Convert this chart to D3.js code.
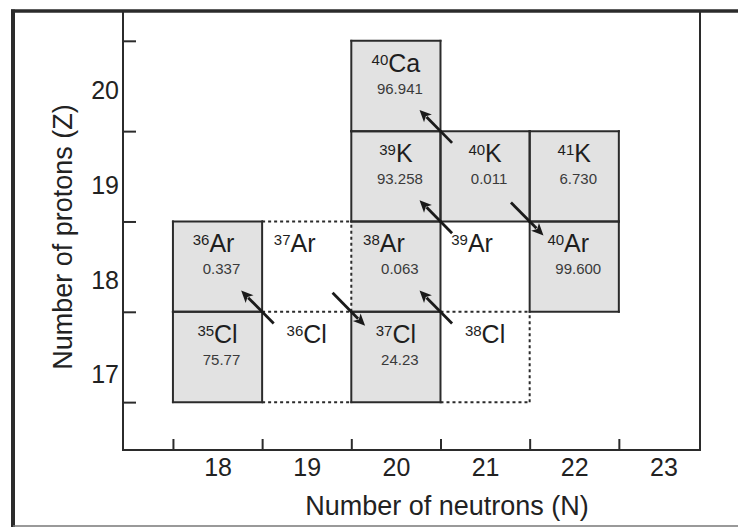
<!DOCTYPE html>
<html>
<head>
<meta charset="utf-8">
<script src="https://cdn.jsdelivr.net/npm/d3@7/dist/d3.min.js"></script>
<style>
  html, body { margin: 0; padding: 0; background: #fff; }
  svg { display: block; font-family: "Liberation Sans", Arial, Helvetica, sans-serif; }
</style>
</head>
<body>
<svg id="chart" width="738" height="527"></svg>
<script>
// Nuclides of the Cl–Ar–K–Ca region (N = neutrons, Z = protons)
const elements     = ["Cl", "Cl", "Cl", "Cl", "Ar", "Ar", "Ar", "Ar", "Ar", "K", "K", "K", "Ca"];
const neutronCount = [18, 19, 20, 21, 18, 19, 20, 21, 22, 20, 21, 22, 20];
const protonCount  = [17, 17, 17, 17, 18, 18, 18, 18, 18, 19, 19, 19, 20];
// natural abundance in percent (null = not naturally occurring)
const abundances   = ["75.77", null, "24.23", null, "0.337", null, "0.063", null, "99.600",
                      "93.258", "0.011", "6.730", "96.941"];

// decay paths: parent -> daughter
const decayFrom = ["36Cl", "37Ar", "38Cl", "39Ar", "40K", "40K"];
const decayTo   = ["36Ar", "37Cl", "38Ar", "39K", "40Ca", "40Ar"];

// axis tick labels
const xTickLabels = [18, 19, 20, 21, 22, 23];
const yTickLabels = [17, 18, 19, 20];

const nuclides = elements.map((el, i) => ({
  el, N: neutronCount[i], Z: protonCount[i], A: neutronCount[i] + protonCount[i],
  abundance: abundances[i], key: (neutronCount[i] + protonCount[i]) + el
}));
const byKey = new Map(nuclides.map(d => [d.key, d]));

const svg = d3.select("#chart");
const ink = "#2b2b2b";

const x = d3.scaleLinear().domain([16.94, 23.41]).range([123, 700]);
const y = d3.scaleLinear().domain([15.97, 20.83]).range([450, 11]);
const [x0, x1] = x.range();
const [y0, y1] = y.range();

// outer frame
svg.append("line").attr("x1", 11).attr("x2", 738).attr("y1", y1).attr("y2", y1)
  .attr("stroke", ink).attr("stroke-width", 3.5);
svg.append("line").attr("x1", 13).attr("x2", 13).attr("y1", 9.5).attr("y2", 527)
  .attr("stroke", ink).attr("stroke-width", 4);
svg.append("line").attr("x1", 13).attr("x2", 738).attr("y1", 526).attr("y2", 526)
  .attr("stroke", "#777").attr("stroke-width", 1.5);

// plot frame
const frame = svg.append("g").attr("stroke", ink).attr("stroke-width", 2);
frame.append("line").attr("x1", x0).attr("x2", x0).attr("y1", y1).attr("y2", y0);
frame.append("line").attr("x1", x1).attr("x2", x1).attr("y1", y1).attr("y2", y0 + 1);
frame.append("line").attr("x1", x0 - 1).attr("x2", x1 + 1).attr("y1", y0).attr("y2", y0);

// cell boundaries as inward ticks
const xBounds = xTickLabels.map(v => v - 0.5);
const yBounds = yTickLabels.map(v => v - 0.5).concat(d3.max(yTickLabels) + 0.5);

const gxTicks = svg.append("g").attr("transform", `translate(0,${y0})`)
  .call(d3.axisBottom(x).tickValues(xBounds).tickSize(-11).tickFormat(""));
const gyTicks = svg.append("g").attr("transform", `translate(${x0},0)`)
  .call(d3.axisLeft(y).tickValues(yBounds).tickSize(-13).tickFormat(""));
[gxTicks, gyTicks].forEach(g => {
  g.select(".domain").remove();
  g.selectAll(".tick line").attr("stroke", ink).attr("stroke-width", 2);
});

// tick labels at cell centres
const intFmt = d3.format("d");
const gxLab = svg.append("g").attr("transform", `translate(0,${y0})`)
  .call(d3.axisBottom(x).tickValues(xTickLabels).tickSize(0).tickFormat(intFmt))
  .attr("font-family", null).attr("font-size", null);
gxLab.select(".domain").remove();
gxLab.selectAll("text").attr("y", 26).attr("dy", 0)
  .attr("font-size", 25).attr("fill", "#222");

const gyLab = svg.append("g").attr("transform", `translate(${x0},0)`)
  .call(d3.axisLeft(y).tickValues(yTickLabels).tickSize(0).tickFormat(intFmt))
  .attr("font-family", null).attr("font-size", null);
gyLab.select(".domain").remove();
gyLab.selectAll("text").attr("x", -4).attr("dy", "0.36em")
  .attr("y", d => 4 + (d3.max(yTickLabels) - d) * 4.3)
  .attr("font-size", 25).attr("fill", "#222");

// axis titles
svg.append("text").attr("x", 447).attr("y", 515)
  .attr("text-anchor", "middle").attr("font-size", 27).attr("fill", "#222")
  .text("Number of neutrons (N)");
svg.append("text").attr("transform", "translate(72,237) rotate(-90)")
  .attr("text-anchor", "middle").attr("font-size", 27).attr("fill", "#222")
  .text("Number of protons (Z)");

// cells
const cellLeft = d => x(d.N - 0.5), cellRight = d => x(d.N + 0.5);
const cellTop = d => y(d.Z + 0.5), cellBottom = d => y(d.Z - 0.5);
const stable = nuclides.filter(d => d.abundance !== null);

svg.append("g").selectAll("rect").data(stable).join("rect")
  .attr("x", cellLeft).attr("y", cellTop)
  .attr("width", d => cellRight(d) - cellLeft(d))
  .attr("height", d => cellBottom(d) - cellTop(d))
  .attr("fill", "#e2e2e2");

// dotted outlines of short-lived nuclides (edges not shared with a solid cell)
const dotted = [
  [[18.5, 18.5], [19.5, 18.5]], [[19.5, 17.5], [19.5, 18.5]],
  [[18.5, 17.5], [19.5, 17.5]], [[18.5, 16.5], [19.5, 16.5]],
  [[20.5, 17.5], [21.5, 17.5]], [[21.5, 16.5], [21.5, 17.5]],
  [[20.5, 16.5], [21.5, 16.5]]
];
svg.append("g").selectAll("line").data(dotted).join("line")
  .attr("x1", d => x(d[0][0])).attr("y1", d => y(d[0][1]))
  .attr("x2", d => x(d[1][0])).attr("y2", d => y(d[1][1]))
  .attr("stroke", ink).attr("stroke-width", 2).attr("stroke-dasharray", "3,3");

// solid outlines of naturally occurring nuclides; the 38Ar left side stays dotted
const solidEdges = [];
stable.forEach(d => {
  const l = d.N - 0.5, r = d.N + 0.5, t = d.Z + 0.5, b = d.Z - 0.5;
  solidEdges.push([[l, t], [r, t]], [[r, t], [r, b]], [[l, b], [r, b]]);
  if (d.key !== "38Ar") solidEdges.push([[l, t], [l, b]]);
});
svg.append("g").selectAll("line").data(solidEdges).join("line")
  .attr("x1", d => x(d[0][0])).attr("y1", d => y(d[0][1]))
  .attr("x2", d => x(d[1][0])).attr("y2", d => y(d[1][1]))
  .attr("stroke", ink).attr("stroke-width", 2).attr("stroke-linecap", "square");

// labels
const labelShift = { "37Ar": -12, "38Ar": -12, "39Ar": -13, "40Ar": -6, "36Ar": -4 };
const labels = svg.append("g").selectAll("g").data(nuclides).join("g");
const name = labels.append("text")
  .attr("x", d => (cellLeft(d) + cellRight(d)) / 2 + (labelShift[d.key] || 0))
  .attr("y", d => cellTop(d) + 31)
  .attr("text-anchor", "middle").attr("fill", "#1e1e1e");
name.append("tspan").attr("font-size", 15).attr("dy", -7).text(d => d.A);
name.append("tspan").attr("font-size", 25).attr("dy", 7).text(d => d.el);

labels.filter(d => d.abundance !== null).append("text")
  .attr("x", d => (cellLeft(d) + cellRight(d)) / 2 + 4)
  .attr("y", d => cellTop(d) + 53)
  .attr("text-anchor", "middle").attr("font-size", 15).attr("fill", "#3a3a3a")
  .text(d => d.abundance);

// decay arrows crossing the shared cell corner
const arrows = decayFrom.map((f, i) => {
  const s = byKey.get(f), t = byKey.get(decayTo[i]);
  const mN = (s.N + t.N) / 2, mZ = (s.Z + t.Z) / 2;
  const up = t.Z > s.Z;
  const tt = up ? 0.26 : 0.42, th = up ? 0.47 : 0.31;
  return {
    x1: x(mN + (s.N - mN) * tt), y1: y(mZ + (s.Z - mZ) * tt),
    x2: x(mN + (t.N - mN) * th), y2: y(mZ + (t.Z - mZ) * th)
  };
});
const ag = svg.append("g");
arrows.forEach(a => {
  const dx = a.x2 - a.x1, dy = a.y2 - a.y1, len = Math.hypot(dx, dy);
  const ux = dx / len, uy = dy / len, px = -uy, py = ux;
  const headL = 12, headW = 5.5, notch = 3;
  ag.append("line")
    .attr("x1", a.x1).attr("y1", a.y1)
    .attr("x2", a.x2 - ux * (headL - 2)).attr("y2", a.y2 - uy * (headL - 2))
    .attr("stroke", "#1a1a1a").attr("stroke-width", 2.8);
  const bx = a.x2 - ux * headL, by = a.y2 - uy * headL;
  const p = [
    [a.x2, a.y2],
    [bx + px * headW, by + py * headW],
    [bx + ux * notch, by + uy * notch],
    [bx - px * headW, by - py * headW]
  ];
  ag.append("path").attr("d", "M" + p.map(q => q.join(",")).join("L") + "Z")
    .attr("fill", "#1a1a1a");
});
</script>
</body>
</html>
